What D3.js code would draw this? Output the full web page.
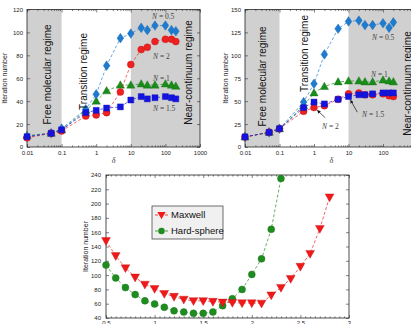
<!DOCTYPE html>
<html><head><meta charset="utf-8">
<script src="https://cdn.jsdelivr.net/npm/d3@7"></script>
<style>
html,body{margin:0;padding:0;background:#fff;}
svg{display:block;font-family:"Liberation Sans",Arial,sans-serif;}
</style></head>
<body>
<svg id="c" width="411" height="324"></svg>
<script>
// ---- data ----
const deltaTop = [0.01,0.05,0.1,0.5,1,2,5,10,20,30,50,100,150,200];
const leftN05 = [9,12,16,33,46,71,95,99,104,102,106,106,102,101];
const leftN1  = [10,12,15,32,40,49,54,54,55,54,54,55,54,53];
const leftN15 = [9,12,15,30,32,34,35,41,44,42,43,44,43,42];
const leftN2  = [8,12,14,27,28,30,48,72,85,87,92,94,94,92];
const rightN05 = [11,16,20,49,69,101,129,137,138,133,133,135,130,136];
const rightN1  = [11,16,20,45,59,66,71,72,72,71,71,73,72,71];
const rightN15 = [11,16,20,43,49,47,52,55,57,57,58,59,59,59];
const rightN2  = [11,16,20,39,43,45,52,58,59,57,57,58,56,55];
const logTicks = [0.01,0.1,1,10,100,1000];
const leftYTicks = [0,20,40,60,80,100,120];
const rightYTicks = [0,25,50,75,100,125,150];
const regimes = ["Free molecular regime","Transition regime","Near-continuum regime"];

const phiMax = [0.5,0.6,0.7,0.8,0.9,1.0,1.1,1.2,1.3,1.4,1.5,1.6,1.7,1.8,1.9,2.0,2.1,2.2,2.3,2.4,2.5,2.6,2.7,2.8];
const maxwell = [148,127,110,97,87,81,74,70,66,64,64,63,62,61.5,61,61,60.5,72,82.5,95,112,130,165,209];
const phiHS = [0.5,0.6,0.7,0.8,0.9,1.0,1.1,1.2,1.3,1.4,1.5,1.6,1.7,1.8,1.9,2.0,2.1,2.2,2.3];
const hardSphere = [114,96,82.5,72.7,64,59.6,55,50,48.4,46.5,46.5,48.4,57.3,67,80,101,122.7,164,235];
const bottomXTicks = [0.5,1,1.5,2,2.5,3];
const bottomYTicks = [40,60,80,100,120,140,160,180,200,220,240];
const legendLabels = ["Maxwell","Hard-sphere"];

// ---- styles ----
const C = {
  n05:"#1e7cd0", n1:"#1a8c1a", n15:"#1414e0", n2:"#ee2020",
  gray:"#d0d0d0", text:"#222"
};
const svg = d3.select("#c");

function marker(type, s){
  switch(type){
    case "circle": return d3.symbol(d3.symbolCircle, s*s*0.785)();
    case "square": return `M${-s/2},${-s/2}h${s}v${s}h${-s}Z`;
    case "diamond": return `M0,${-s*0.6}L${s*0.42},0L0,${s*0.6}L${-s*0.42},0Z`;
    case "tri": return `M0,${-s*0.58}L${s*0.55},${s*0.4}L${-s*0.55},${s*0.4}Z`;
    case "dtri": return `M0,${s*0.58}L${s*0.55},${-s*0.4}L${-s*0.55},${-s*0.4}Z`;
  }
}

function drawSeries(g, xs, ys, x, y, color, type, size){
  const line = d3.line().x((d,i)=>x(xs[i])).y(d=>y(d));
  g.append("path").attr("d", line(ys)).attr("fill","none")
    .attr("stroke", color).attr("stroke-width",0.8).attr("stroke-dasharray","3,2").attr("opacity",0.85);
  g.selectAll(null).data(ys).enter().append("path")
    .attr("d", marker(type,size))
    .attr("transform",(d,i)=>`translate(${x(xs[i])},${y(d)})`)
    .attr("fill", color).attr("stroke", d3.color(color).darker(0.6)).attr("stroke-width",0.4);
}

function frameAxes(g, x, y, xTicks, yTicks, xMinor, fmtX, W, H, xpad, ypad){
  g.append("g").attr("transform",`translate(0,${H})`)
    .call(d3.axisBottom(x).tickValues(xTicks).tickSize(-3).tickPadding(xpad).tickFormat(fmtX));
  g.append("g").call(d3.axisTop(x).tickValues(xTicks).tickSize(-3).tickFormat(""));
  if(xMinor){
    g.append("g").attr("transform",`translate(0,${H})`).call(d3.axisBottom(x).tickValues(xMinor).tickSize(-1.6).tickFormat(""));
    g.append("g").call(d3.axisTop(x).tickValues(xMinor).tickSize(-1.6).tickFormat(""));
  }
  g.append("g").call(d3.axisLeft(y).tickValues(yTicks).tickSize(-3).tickPadding(ypad));
  g.append("g").attr("transform",`translate(${W},0)`).call(d3.axisRight(y).tickValues(yTicks).tickSize(-3).tickFormat(""));
  g.selectAll(".domain").remove();
  g.selectAll(".tick line").attr("stroke","#333").attr("stroke-width",0.6);
  g.selectAll(".tick text").attr("font-size",6).attr("fill",C.text).attr("font-family","Liberation Sans, Arial, sans-serif");
  g.append("rect").attr("width",W).attr("height",H).attr("fill","none").attr("stroke","#222").attr("stroke-width",0.8);
}

const minorLog = [];
for (let e=-2;e<3;e++) for (let k=2;k<10;k++) minorLog.push(k*Math.pow(10,e));
const fmtLog = d => d>=1 ? d3.format("d")(d) : String(d);

function drawTop(cfg){
  const W = cfg.W, H = cfg.H;
  const g = svg.append("g").attr("transform",`translate(${cfg.left},${cfg.top})`);
  const x = d3.scaleLog().domain([0.01,1000]).range([0,W]);
  const y = d3.scaleLinear().domain([0,cfg.ymax]).range([H,0]);
  g.append("rect").attr("x",x(0.01)).attr("width",x(0.1)-x(0.01)).attr("height",H).attr("fill",C.gray);
  g.append("rect").attr("x",x(10)).attr("width",x(1000)-x(10)).attr("height",H).attr("fill",C.gray);
  frameAxes(g,x,y,logTicks,cfg.yTicks,minorLog,fmtLog,W,H,4,4);
  drawSeries(g, deltaTop, cfg.n1, x, y, C.n1, "tri", 7.5);
  drawSeries(g, deltaTop, cfg.n05, x, y, C.n05, "diamond", 8);
  drawSeries(g, deltaTop, cfg.n2, x, y, C.n2, "circle", 7);
  drawSeries(g, deltaTop, cfg.n15, x, y, C.n15, "square", 6);
  cfg.reg.forEach((r,i)=>{
    g.append("text").attr("transform",`translate(${r[0]},${r[1]}) rotate(-90)`)
      .attr("text-anchor","middle").attr("font-size",10).attr("fill","#111").text(regimes[i]);
  });
  cfg.nl.forEach(n=>{
    const t = g.append("text").attr("x",n[1]).attr("y",n[2]).attr("font-size",7.5)
      .attr("font-family","Liberation Serif, Times New Roman, serif").attr("fill","#444");
    t.append("tspan").attr("font-style","italic").text("N");
    t.append("tspan").text(" = "+n[0]);
  });
  g.append("text").attr("transform",`translate(${cfg.ytx},${H/2}) rotate(-90)`)
    .attr("text-anchor","middle").attr("font-size",7).attr("fill",C.text).text("Iteration number");
  g.append("text").attr("x",W/2).attr("y",H+16).attr("text-anchor","middle")
    .attr("font-size",8).attr("font-style","italic").attr("font-family","Liberation Serif, serif").attr("fill","#333").text("δ");
  return {g,x,y};
}

drawTop({left:27, top:9.5, W:173, H:137.5, ymax:120, yTicks:leftYTicks,
  n05:leftN05, n1:leftN1, n15:leftN15, n2:leftN2, ytx:-20,
  reg:[[24,65],[60,62],[165,63]],
  nl:[["0.5",125,9],["2",126,49],["1",126,71],["1.5",126,101]]});

const R = drawTop({left:245, top:9.5, W:172.5, H:137.5, ymax:150, yTicks:rightYTicks,
  n05:rightN05, n1:rightN1, n15:rightN15, n2:rightN2, ytx:-17,
  reg:[[21,67],[63,44],[166,74]],
  nl:[["0.5",127,30],["1",126,67],["1.5",117,107],["2",77,119]]});

const defs = svg.append("defs");
defs.append("marker").attr("id","ah").attr("viewBox","0 0 10 10").attr("refX",9).attr("refY",5)
  .attr("markerWidth",5).attr("markerHeight",5).attr("orient","auto")
  .append("path").attr("d","M0,0L10,5L0,10Z").attr("fill","#111");
R.g.append("line").attr("x1",R.x(2.1)).attr("y1",R.y(32)).attr("x2",R.x(1.25)).attr("y2",R.y(40))
  .attr("stroke","#111").attr("stroke-width",0.7).attr("marker-end","url(#ah)");
R.g.append("line").attr("x1",R.x(18)).attr("y1",R.y(38)).attr("x2",R.x(11.5)).attr("y2",R.y(51))
  .attr("stroke","#111").attr("stroke-width",0.7).attr("marker-end","url(#ah)");

// ---- bottom chart ----
(function(){
  const left=106, top=175, W=243, H=143;
  const g = svg.append("g").attr("transform",`translate(${left},${top})`);
  const x = d3.scaleLinear().domain([0.5,3]).range([0,W]);
  const y = d3.scaleLinear().domain([40,240]).range([H,0]);
  const minor = d3.range(0.55,3,0.05).filter(v=>Math.abs(v*2-Math.round(v*2))>1e-6);
  frameAxes(g,x,y,bottomXTicks,bottomYTicks,minor,d=>String(d),W,H,3,5);
  drawSeries(g, phiHS, hardSphere, x, y, "#1f8c1f", "circle", 7);
  drawSeries(g, phiMax, maxwell, x, y, "#f01818", "dtri", 8);
  g.append("text").attr("transform",`translate(-18,${H/2}) rotate(-90)`)
    .attr("text-anchor","middle").attr("font-size",7).attr("fill",C.text).text("Iteration number");
  const lg = g.append("g").attr("transform",`translate(${46},${31})`);
  lg.append("rect").attr("width",71).attr("height",33).attr("fill","#f0f0f0").attr("stroke","#333").attr("stroke-width",0.7);
  const cols = ["#f01818","#1f8c1f"], types=["dtri","circle"];
  legendLabels.forEach((l,i)=>{
    const yy = 9 + i*16;
    lg.append("line").attr("x1",3).attr("x2",16).attr("y1",yy).attr("y2",yy)
      .attr("stroke",cols[i]).attr("stroke-width",0.8).attr("stroke-dasharray","3,2");
    lg.append("path").attr("d",marker(types[i],types[i]=="circle"?6.5:7.5)).attr("transform",`translate(9.5,${yy})`)
      .attr("fill",cols[i]);
    lg.append("text").attr("x",19).attr("y",yy+3.3).attr("font-size",9.5).attr("fill","#111").text(l);
  });
})();
</script>
</body></html>
